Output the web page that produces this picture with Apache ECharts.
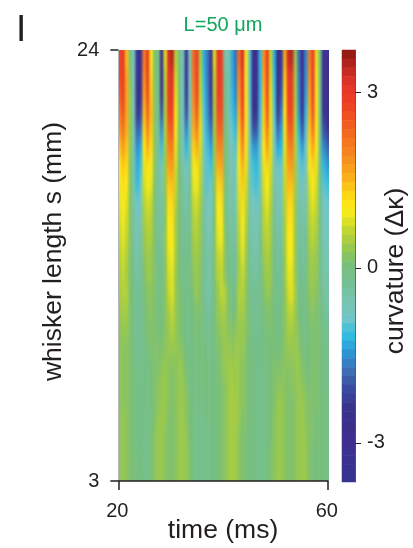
<!DOCTYPE html>
<html>
<head>
<meta charset="utf-8">
<style>
html,body{margin:0;padding:0;background:#fff}
#main{width:413px;height:548px}
/* the heatmap sits alone on zlevel 0: soften its cells, then trim to the plot box */
#main canvas[data-zr-dom-id="zr_0"]{filter:url(#soften);clip-path:inset(50px 84px 67px 118px)}
</style>
<script src="https://cdn.jsdelivr.net/npm/echarts@6/dist/echarts.min.js"></script>
</head>
<body>
<svg width="0" height="0" style="position:absolute"><filter id="soften" color-interpolation-filters="sRGB" x="0" y="0" width="100%" height="100%"><feGaussianBlur stdDeviation="0.9 7"/></filter></svg>
<div id="main"></div>
<script>
var timeTicks = [20, 60];
var lengthTicks = [3, 24];
var barTicks = [-3, 0, 3];
var barLevels = [3.6,3.45,3.3,3.15,3,2.85,2.7,2.55,2.4,2.25,2.1,1.95,1.8,1.65,1.5,1.35,1.2,1.05,0.9,0.75,0.6,0.45,0.3,0.15,0,-0.15,-0.3,-0.45,-0.6,-0.75,-0.9,-1.05,-1.2,-1.35,-1.5,-1.65,-1.8,-1.95,-2.1,-2.25,-2.4,-2.55,-2.7,-2.85,-3,-3.15,-3.3,-3.45,-3.6];

// curvature, 60 time columns, top row (s=24) first
var rows = [
[2.7,3.0,1.4,0.1,-0.8,-2.9,-2.9,2.0,2.9,1.0,0.1,-0.1,-2.7,0.8,3.2,3.4,0.5,-0.1,-0.7,-2.7,-0.6,2.2,2.9,0.4,-1.3,-1.7,-2.6,0.8,3.1,2.8,-0.5,-0.6,-1.3,-1.8,2.2,3.2,1.0,-1.0,-2.9,-3.0,-1.2,1.8,2.8,0.6,-1.3,-2.7,-2.3,1.5,3.3,3.4,0.3,-1.8,-3.0,-1.6,2.0,2.9,0.8,-0.1,-3.0,-3.1],
[2.6,2.9,1.6,0.2,-0.7,-2.8,-2.8,1.8,2.8,1.2,0.1,-0.2,-2.6,0.6,3.0,3.1,0.7,-0.1,-0.8,-2.6,-0.7,2.1,2.8,0.5,-1.2,-1.7,-2.6,0.6,2.9,2.8,-0.3,-0.5,-1.3,-1.7,1.9,3.0,1.0,-1.0,-2.9,-2.9,-1.2,1.6,2.7,0.7,-1.2,-2.6,-2.2,1.3,3.0,3.0,0.4,-1.7,-2.9,-1.5,1.8,2.8,0.9,-0.2,-2.9,-3.0],
[2.3,2.8,1.6,0.3,-0.6,-2.7,-2.6,1.6,2.6,1.3,0.2,-0.3,-2.4,0.5,2.9,2.9,0.8,0,-0.8,-2.4,-0.7,1.9,2.7,0.6,-1.1,-1.6,-2.5,0.5,2.8,2.7,-0.2,-0.5,-1.2,-1.6,1.7,2.9,1.0,-1.0,-2.8,-2.8,-1.2,1.4,2.6,0.8,-1.1,-2.5,-2.0,1.1,2.9,2.8,0.4,-1.6,-2.8,-1.4,1.6,2.7,1.0,-0.3,-2.8,-2.9],
[2.0,2.5,1.6,0.3,-0.6,-2.4,-2.2,1.4,2.3,1.4,0.2,-0.3,-2.0,0.5,2.7,2.7,0.9,0,-0.8,-2.1,-0.7,1.7,2.4,0.7,-1.0,-1.5,-2.2,0.4,2.6,2.6,-0.1,-0.5,-1.1,-1.4,1.5,2.7,1.0,-0.9,-2.5,-2.5,-1.1,1.3,2.4,0.8,-1.0,-2.3,-1.7,1.0,2.7,2.7,0.5,-1.5,-2.6,-1.2,1.5,2.5,1.0,-0.3,-2.5,-2.7],
[1.7,2.1,1.5,0.3,-0.6,-1.9,-1.7,1.2,1.9,1.3,0.2,-0.4,-1.5,0.5,2.3,2.4,0.9,0,-0.7,-1.6,-0.6,1.5,2.0,0.8,-0.9,-1.3,-1.8,0.4,2.3,2.3,0,-0.5,-0.9,-1.2,1.3,2.3,1.0,-0.8,-2.0,-2.0,-1.0,1.2,2.0,0.8,-0.9,-1.8,-1.4,0.9,2.3,2.4,0.5,-1.2,-2.0,-1.0,1.3,2.1,1.0,-0.3,-2.0,-2.3],
[1.3,1.7,1.3,0.3,-0.6,-1.5,-1.3,1.0,1.5,1.1,0.2,-0.4,-1.1,0.4,1.9,2.0,0.8,0,-0.6,-1.2,-0.5,1.2,1.5,0.7,-0.7,-1.1,-1.4,0.3,1.9,1.9,0.1,-0.5,-0.7,-1.0,1.1,1.9,0.9,-0.7,-1.4,-1.4,-0.8,1.0,1.6,0.8,-0.7,-1.3,-1.2,0.8,1.9,2.0,0.5,-1.0,-1.4,-0.8,1.1,1.6,0.9,-0.3,-1.5,-1.8],
[1.0,1.3,1.1,0.2,-0.5,-1.3,-1.1,0.8,1.1,0.9,0.2,-0.4,-0.8,0.3,1.6,1.7,0.7,0,-0.5,-0.8,-0.4,0.9,1.1,0.6,-0.6,-1.0,-1.1,0.3,1.5,1.6,0.1,-0.5,-0.6,-0.8,0.9,1.5,0.8,-0.6,-1.1,-1.2,-0.7,0.8,1.2,0.7,-0.6,-0.9,-0.9,0.7,1.6,1.7,0.4,-0.8,-1.0,-0.7,0.9,1.2,0.8,-0.2,-1.2,-1.4],
[0.9,1.1,1.0,0.2,-0.5,-1.2,-0.9,0.7,0.9,0.8,0.1,-0.4,-0.6,0.3,1.3,1.4,0.6,0,-0.4,-0.6,-0.3,0.8,0.9,0.5,-0.5,-1.0,-0.9,0.2,1.2,1.3,0.1,-0.5,-0.5,-0.7,0.8,1.3,0.7,-0.5,-1.0,-1.1,-0.6,0.7,1.0,0.6,-0.5,-0.7,-0.7,0.6,1.4,1.4,0.4,-0.6,-0.8,-0.6,0.7,1.0,0.7,-0.2,-1.0,-1.1],
[0.8,1.0,0.8,0.2,-0.5,-0.9,-0.7,0.5,0.7,0.6,0.1,-0.4,-0.5,0.2,1.1,1.2,0.5,0,-0.4,-0.5,-0.3,0.6,0.7,0.4,-0.4,-0.8,-0.7,0.1,1.0,1.1,0.1,-0.5,-0.5,-0.6,0.7,1.1,0.6,-0.5,-0.8,-0.9,-0.5,0.6,0.8,0.5,-0.4,-0.6,-0.6,0.5,1.2,1.2,0.3,-0.5,-0.6,-0.5,0.6,0.8,0.6,-0.2,-0.8,-0.9],
[0.7,0.9,0.7,0.2,-0.4,-0.7,-0.6,0.4,0.55,0.5,0.1,-0.4,-0.4,0.2,1.0,1.1,0.4,0,-0.3,-0.4,-0.3,0.5,0.55,0.3,-0.4,-0.7,-0.6,0.1,0.9,1.0,0.1,-0.4,-0.4,-0.5,0.6,1.0,0.5,-0.4,-0.7,-0.7,-0.4,0.5,0.65,0.4,-0.4,-0.5,-0.5,0.4,1.1,1.1,0.3,-0.4,-0.5,-0.4,0.5,0.65,0.5,-0.2,-0.7,-0.8],
[0.6,0.8,0.6,0.2,-0.4,-0.6,-0.5,0.3,0.45,0.4,0.1,-0.3,-0.4,0.3,0.9,1.0,0.4,0,-0.3,-0.3,-0.2,0.4,0.45,0.3,-0.3,-0.6,-0.5,0.1,0.8,0.9,0.2,-0.3,-0.4,-0.4,0.5,0.9,0.4,-0.4,-0.6,-0.6,-0.3,0.4,0.55,0.4,-0.3,-0.4,-0.4,0.4,1.0,1.0,0.3,-0.4,-0.4,-0.3,0.4,0.55,0.4,-0.2,-0.6,-0.7],
[0.5,0.7,0.5,0.1,-0.3,-0.5,-0.4,0.2,0.35,0.3,0.1,-0.3,-0.3,0.2,0.8,0.9,0.4,0,-0.2,-0.3,-0.2,0.3,0.35,0.2,-0.3,-0.5,-0.4,0.1,0.6,0.7,0.2,-0.2,-0.3,-0.3,0.4,0.8,0.3,-0.3,-0.5,-0.5,-0.3,0.3,0.45,0.3,-0.3,-0.4,-0.3,0.3,0.9,0.9,0.3,-0.3,-0.4,-0.3,0.3,0.4,0.3,-0.2,-0.5,-0.6],
[0.4,0.6,0.4,0.1,-0.3,-0.4,-0.4,0.1,0.3,0.3,0.1,-0.2,-0.2,0.2,0.7,0.8,0.3,0,-0.2,-0.2,-0.1,0.2,0.3,0.2,-0.3,-0.5,-0.4,0.1,0.5,0.6,0.2,-0.2,-0.3,-0.3,0.4,0.6,0.3,-0.3,-0.4,-0.4,-0.3,0.2,0.35,0.3,-0.2,-0.3,-0.3,0.3,0.8,0.8,0.3,-0.3,-0.3,-0.2,0.3,0.3,0.3,-0.2,-0.5,-0.5],
[0.4,0.5,0.5,0.1,-0.2,-0.3,-0.3,0,0.2,0.2,0.1,-0.2,-0.1,0.2,0.6,0.8,0.3,0.1,-0.1,-0.2,-0.1,0.1,0.3,0.1,-0.3,-0.5,-0.4,0,0.3,0.6,0.5,0.1,-0.2,-0.1,0.5,0.5,0.2,-0.2,-0.3,-0.3,-0.2,0.1,0.3,0.2,-0.2,-0.2,-0.2,0.2,0.7,0.8,0.4,-0.2,-0.2,-0.1,0.2,0.3,0.2,-0.1,-0.4,-0.5],
[0.3,0.4,0.4,0.1,-0.2,-0.3,-0.3,0,0.1,0.2,0.1,-0.1,-0.1,0.2,0.4,0.6,0.3,0.1,0,-0.2,-0.1,0,0.1,0.1,-0.2,-0.4,-0.3,0,0.3,0.4,0.4,0.1,-0.1,0,0.4,0.4,0.2,-0.1,-0.3,-0.3,-0.2,0,0.1,0.1,-0.1,-0.2,-0.1,0.2,0.5,0.6,0.3,0,-0.2,-0.1,0.1,0.2,0.1,-0.1,-0.3,-0.4],
[0.2,0.3,0.3,0.1,-0.2,-0.3,-0.3,-0.1,0.1,0.1,0.1,0,0,0.2,0.3,0.5,0.3,0.1,0,-0.2,-0.2,0,0,0,-0.1,-0.3,-0.2,0,0.2,0.3,0.3,0.2,0.1,0.2,0.3,0.3,0.2,0,-0.2,-0.3,-0.2,-0.1,0,0.1,0,-0.1,-0.1,0.2,0.4,0.4,0.3,0.1,-0.1,-0.1,0,0.1,0.1,0,-0.2,-0.3],
[0.2,0.2,0.2,0.1,-0.1,-0.2,-0.3,-0.2,0,0.1,0.1,0.1,0.1,0.2,0.3,0.3,0.3,0.2,0.1,-0.1,-0.2,-0.1,0,0,-0.1,-0.2,-0.2,-0.1,0.1,0.2,0.3,0.3,0.2,0.3,0.3,0.3,0.1,0,-0.2,-0.2,-0.2,-0.1,0,0,0,0,0,0.2,0.3,0.3,0.3,0.2,0,-0.1,0,0.1,0.1,0,-0.2,-0.2],
[0.2,0.2,0.2,0.1,-0.1,-0.2,-0.2,-0.2,-0.1,0,0.1,0.1,0.2,0.3,0.2,0.2,0.2,0.3,0.2,0,-0.1,-0.1,-0.1,0,0,-0.1,-0.1,-0.1,0,0.2,0.3,0.35,0.35,0.35,0.3,0.2,0.1,0,-0.1,-0.2,-0.2,-0.1,-0.1,0,0.1,0.1,0.1,0.2,0.2,0.2,0.3,0.3,0.1,0,0,0.1,0.1,0,-0.1,-0.2],
[0.2,0.2,0.2,0.1,0,-0.1,-0.2,-0.2,-0.1,0,0.1,0.2,0.3,0.3,0.2,0.1,0.2,0.3,0.3,0.1,-0.1,-0.1,-0.1,-0.1,0,-0.1,-0.1,-0.1,0,0.1,0.2,0.35,0.4,0.35,0.3,0.2,0.1,0,-0.1,-0.2,-0.2,-0.2,-0.1,0,0.1,0.2,0.2,0.2,0.1,0.2,0.2,0.3,0.2,0.1,0,0.1,0.1,0,-0.1,-0.2],
[0.2,0.2,0.2,0.1,0,-0.1,-0.2,-0.2,-0.1,0,0.1,0.2,0.3,0.3,0.2,0.1,0.2,0.3,0.3,0.2,0,-0.1,-0.2,-0.1,-0.1,-0.1,-0.1,-0.1,0,0.1,0.2,0.35,0.42,0.38,0.3,0.2,0.1,0,-0.1,-0.2,-0.2,-0.2,-0.1,0,0.1,0.3,0.3,0.2,0.1,0.1,0.2,0.3,0.3,0.2,0.1,0.1,0.1,0,-0.1,-0.1],
[0.2,0.3,0.2,0.1,0,-0.1,-0.2,-0.2,-0.2,0,0.1,0.3,0.33,0.3,0.1,0.1,0.2,0.3,0.33,0.2,0,-0.1,-0.2,-0.2,-0.2,-0.1,-0.1,-0.1,0,0.1,0.2,0.35,0.42,0.38,0.3,0.1,0.1,0,-0.1,-0.2,-0.2,-0.2,-0.1,0,0.2,0.3,0.3,0.2,0.1,0.1,0.2,0.3,0.33,0.2,0.1,0.1,0,0,-0.1,-0.1],
[0.2,0.3,0.2,0.1,0,-0.1,-0.2,-0.2,-0.2,0,0.2,0.3,0.33,0.2,0.1,0.1,0.2,0.3,0.33,0.3,0,-0.1,-0.2,-0.2,-0.2,-0.2,-0.1,-0.1,0,0.1,0.2,0.35,0.42,0.38,0.2,0.1,0,0,-0.1,-0.2,-0.2,-0.2,-0.1,0,0.2,0.3,0.3,0.2,0.1,0.1,0.2,0.3,0.33,0.3,0.1,0.1,0,0,-0.1,-0.1],
[0.2,0.3,0.2,0.1,0,-0.1,-0.1,-0.2,-0.2,0,0.2,0.3,0.33,0.2,0.1,0.1,0.2,0.3,0.33,0.3,0.1,-0.1,-0.2,-0.2,-0.2,-0.2,-0.1,-0.1,0,0.1,0.2,0.35,0.42,0.38,0.2,0.1,0,0,-0.1,-0.2,-0.2,-0.2,-0.1,0.1,0.2,0.3,0.3,0.2,0.1,0.1,0.2,0.3,0.33,0.3,0.1,0,0,0,-0.1,-0.1],
[0.2,0.3,0.2,0.1,0,0,-0.1,-0.2,-0.2,0,0.2,0.3,0.3,0.2,0.1,0.1,0.2,0.3,0.33,0.3,0.1,-0.1,-0.2,-0.2,-0.2,-0.2,-0.1,-0.1,0,0.1,0.2,0.35,0.42,0.38,0.2,0.1,0,0,-0.1,-0.2,-0.2,-0.2,-0.1,0.1,0.2,0.33,0.3,0.2,0.1,0.1,0.2,0.3,0.33,0.33,0.1,0,0,0,-0.1,-0.1]
];

var jet = ["#37348f","#3a3191","#3d2f8f","#3b2f8c","#38338d","#394a9f","#3e6db4","#2f93d4","#30bde0","#74c6c6","#78c4b0","#74bf90","#78bf78","#9cc94a","#c8d82c","#fdee18","#fdd018","#faa81b","#f68a1f","#f3701f","#f05522","#ee3e24","#e2352a","#b82520","#851610"];

// repeat the edge cells outside the clipped box so the softening doesn't fade at the borders
var padRows = 2, padCols = 4;
var padded = [];
for (var k = 0; k < padRows; k++) padded.push(rows[0]);
padded = padded.concat(rows);
for (var k = 0; k < padRows; k++) padded.push(rows[rows.length - 1]);

var heat = [];
var nCols = rows[0].length + padCols * 2;
padded.forEach(function (r, j) {
  for (var i = 0; i < nCols; i++) {
    var src = Math.min(Math.max(i - padCols, 0), r.length - 1);
    heat.push([i, j, r[src]]);
  }
});
var colKeys = [];
for (var i = 0; i < nCols; i++) colKeys.push("c" + i);
var rowKeys = padded.map(function (r, j) { return "r" + j; });
var barData = barLevels.map(function (v, j) { return [0, j, v]; });

var font = "Liberation Sans";
var ink = "#231f20";

var myChart = echarts.init(document.getElementById("main"));

var option = {
  animation: false,
  textStyle: { fontFamily: font, color: ink },
  title: [
    { zlevel: 1, text: "I", left: 11, top: 7, textStyle: { fontSize: 37, fontWeight: "normal", fontFamily: font, color: ink } },
    { zlevel: 1, text: "L=50 μm", left: 218, top: 10, textAlign: "center", textStyle: { fontSize: 20, fontWeight: "normal", fontFamily: font, color: "#12a65a" } }
  ],
  grid: [
    { left: 103.93, top: 14, width: 239.14, height: 504, outerBoundsMode: "none" },
    { left: 118.3, top: 50, width: 209.5, height: 431, outerBoundsMode: "none" },
    { left: 342, top: 50, width: 13, height: 432, outerBoundsMode: "none" }
  ],
  visualMap: {
    show: false,
    seriesIndex: [0, 1],
    min: -3.63,
    max: 3.7,
    inRange: { color: jet }
  },
  xAxis: [
    { type: "category", gridIndex: 0, data: colKeys, show: false },
    {
      type: "value", gridIndex: 1, zlevel: 1, min: 20, max: 60, position: "bottom",
      name: "time (ms)", nameLocation: "middle", nameGap: 36, nameMoveOverlap: false,
      nameTextStyle: { fontSize: 26.5, fontFamily: font, color: ink },
      axisLine: { show: true, onZero: false, lineStyle: { color: ink, width: 1.5 } },
      axisTick: { show: true, length: 9, customValues: timeTicks, lineStyle: { color: ink, width: 1.5 } },
      axisLabel: { show: true, customValues: timeTicks, margin: 20, fontSize: 20, color: ink, fontFamily: font, showMinLabel: true, showMaxLabel: true, padding: [0, 2, 0, 0] },
      splitLine: { show: false }
    },
    { type: "category", gridIndex: 2, data: ["bar"], show: false }
  ],
  yAxis: [
    { type: "category", gridIndex: 0, data: rowKeys, inverse: true, show: false },
    {
      type: "value", gridIndex: 1, zlevel: 1, min: 3, max: 24, position: "left",
      name: "whisker length s (mm)", nameLocation: "middle", nameGap: 51, nameMoveOverlap: false,
      nameTextStyle: { fontSize: 26.5, fontFamily: font, color: ink, padding: [0, 0, 0, 28] },
      axisLine: { show: true, onZero: false, lineStyle: { color: "#b5b5b5", width: 1 } },
      axisTick: { show: true, length: 8, customValues: lengthTicks, lineStyle: { color: ink, width: 1.5 } },
      axisLabel: { show: true, customValues: lengthTicks, margin: 19, fontSize: 20, color: ink, fontFamily: font, showMinLabel: true, showMaxLabel: true, padding: [7, 0, 0, 0] },
      splitLine: { show: false }
    },
    { type: "category", gridIndex: 2, data: barLevels.map(String), inverse: true, show: false },
    {
      type: "value", gridIndex: 2, zlevel: 1, min: -3.67, max: 3.73, position: "right",
      name: "curvature (Δκ)", nameLocation: "middle", nameGap: 27, nameRotate: 90, nameMoveOverlap: false,
      nameTextStyle: { fontSize: 26.5, fontFamily: font, color: ink, padding: [0, 10, 0, 0] },
      axisLine: { show: true, onZero: false, lineStyle: { color: "#555", width: 1 } },
      axisTick: { show: true, length: 6, customValues: barTicks, lineStyle: { color: ink, width: 1 } },
      axisLabel: { show: true, customValues: barTicks, margin: 12, fontSize: 20, color: ink, fontFamily: font, padding: [7, 0, 0, 0] },
      splitLine: { show: false }
    }
  ],
  series: [
    { type: "heatmap", zlevel: 0, xAxisIndex: 0, yAxisIndex: 0, data: heat, progressive: 0, silent: true, itemStyle: { borderWidth: 0 }, emphasis: { disabled: true } },
    { type: "heatmap", zlevel: 1, xAxisIndex: 2, yAxisIndex: 2, data: barData, progressive: 0, silent: true, itemStyle: { borderWidth: 0 }, emphasis: { disabled: true } }
  ]
};

myChart.setOption(option);
window.addEventListener("resize", myChart.resize);
</script>
</body>
</html>
